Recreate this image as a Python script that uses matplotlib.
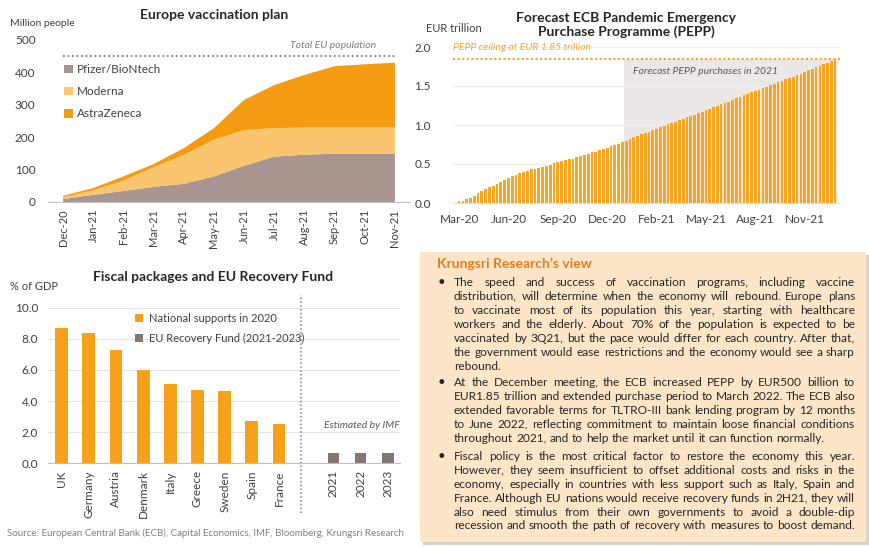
import matplotlib
matplotlib.use("Agg")
import matplotlib.pyplot as plt
from matplotlib.patches import Rectangle
from matplotlib.lines import Line2D
import matplotlib.transforms as mtransforms

W, H = 870, 547
plt.rcParams['font.family'] = ['Lato', 'DejaVu Sans']
TXT = '#404040'

# ---------------- data ----------------
vac_months = ['Dec-20', 'Jan-21', 'Feb-21', 'Mar-21', 'Apr-21', 'May-21',
              'Jun-21', 'Jul-21', 'Aug-21', 'Sep-21', 'Oct-21', 'Nov-21']
pfizer = [9, 22, 34, 47, 56, 79, 112, 140, 146, 149, 149, 149]
moderna = [6, 14, 32, 60, 89, 113, 110, 88, 84, 81, 81, 81]
astrazeneca = [4, 7, 13, 10, 21, 36, 93, 133, 162, 189, 195, 200]
eu_population = 450

pepp_values = [0.02, 0.03, 0.05, 0.07, 0.09, 0.13, 0.15, 0.18, 0.20, 0.22,
               0.25, 0.27, 0.30, 0.32, 0.34, 0.36, 0.38, 0.40, 0.41, 0.43,
               0.44, 0.45, 0.46, 0.48, 0.49, 0.51, 0.52, 0.54, 0.55, 0.56,
               0.57, 0.59, 0.60, 0.62, 0.63, 0.65, 0.66, 0.68, 0.69, 0.71,
               0.73, 0.74, 0.76, 0.78, 0.80, 0.82, 0.84, 0.86, 0.88, 0.90,
               0.91, 0.93, 0.95, 0.97, 0.99, 1.01, 1.02, 1.04, 1.06, 1.08,
               1.10, 1.12, 1.13, 1.15, 1.17, 1.19, 1.21, 1.23, 1.25, 1.27,
               1.28, 1.30, 1.32, 1.34, 1.36, 1.38, 1.40, 1.42, 1.44, 1.45,
               1.47, 1.49, 1.51, 1.53, 1.55, 1.57, 1.59, 1.60, 1.62, 1.64,
               1.66, 1.68, 1.70, 1.72, 1.74, 1.76, 1.78, 1.80, 1.82, 1.85]
pepp_tick_pos = [0, 13, 26, 39, 52, 65, 78, 91]
pepp_tick_labels = ['Mar-20', 'Jun-20', 'Sep-20', 'Dec-20', 'Feb-21',
                    'May-21', 'Aug-21', 'Nov-21']
pepp_forecast_start = 44
pepp_ceiling = 1.85

countries = ['UK', 'Germany', 'Austria', 'Denmark', 'Italy', 'Greece',
             'Sweden', 'Spain', 'France']
national_support = [8.67, 8.35, 7.28, 6.0, 5.07, 4.71, 4.67, 2.74, 2.53]
fund_years = ['2021', '2022', '2023']
recovery_fund = [0.66, 0.66, 0.66]

# ---------------- helpers ----------------
fig = plt.figure(figsize=(W / 100, H / 100), dpi=100)
fig.patch.set_facecolor('white')


def fx(x):
    return x / W


def fy(y):
    return 1 - y / H


def ax_rect(l, t, r, b):
    return [fx(l), fy(b), (r - l) / W, (b - t) / H]


def style_axes(ax):
    for s in ['top', 'right', 'left']:
        ax.spines[s].set_visible(False)
    ax.spines['bottom'].set_color('#BFBFBF')
    ax.tick_params(length=0, colors=TXT, labelsize=8)


# ---------------- chart 1: vaccination ----------------
C_PF, C_MO, C_AZ = '#A8958F', '#FBC46E', '#F59B12'
ax1 = fig.add_axes(ax_rect(48, 40, 410, 202))
x1 = list(range(len(vac_months)))
ax1.stackplot(x1, pfizer, moderna, astrazeneca, colors=[C_PF, C_MO, C_AZ],
              labels=['Pfizer/BioNtech', 'Moderna', 'AstraZeneca'], linewidth=0)
ax1.hlines(eu_population, x1[0], x1[-1], colors='#7F7F7F',
           linestyles=(0, (1, 1.5)), linewidth=1.3)
ax1.set_xlim(-0.5, len(vac_months) - 0.5)
ax1.set_ylim(0, 500)
ax1.set_yticks([0, 100, 200, 300, 400, 500])
ax1.set_xticks(x1)
ax1.set_xticklabels(vac_months, rotation=90)
style_axes(ax1)
ax1.tick_params(axis='y', pad=9, labelsize=8.5)
ax1.tick_params(axis='x', pad=5)
leg = ax1.legend(loc='upper left', bbox_to_anchor=(fx(64), fy(64)),
                 bbox_transform=fig.transFigure, frameon=False, fontsize=8.5,
                 handlelength=0.75, handleheight=0.75, handletextpad=0.35,
                 labelspacing=0.95, borderpad=0, borderaxespad=0)
for t in leg.get_texts():
    t.set_color(TXT)
fig.text(fx(214), fy(15), 'Europe vaccination plan', ha='center', va='center',
         fontsize=10, fontweight='bold', color='#262626')
fig.text(fx(10), fy(24), 'Million people', ha='left', va='center',
         fontsize=7.5, color=TXT)
fig.text(fx(376), fy(45), 'Total EU population', ha='right', va='center',
         fontsize=7.5, style='italic', color='#7F7F7F')

# ---------------- chart 2: PEPP ----------------
C_BAR = '#F5A623'
ax2 = fig.add_axes(ax_rect(453, 47, 840, 203))
xp = list(range(len(pepp_values)))
ax2.fill_between([pepp_forecast_start - 0.5, len(pepp_values) - 0.2], 0,
                 pepp_ceiling, color='#EDE8E8', linewidth=0, zorder=0)
ax2.bar(xp, pepp_values, width=0.72, color=C_BAR, linewidth=0, zorder=2)
ax2.axhline(pepp_ceiling, color=C_BAR, linestyle=(0, (1, 1.2)),
            linewidth=1.5, zorder=3)
ax2.set_xlim(-1.6, len(pepp_values) + 0.3)
ax2.set_ylim(0, 2.0)
ax2.set_yticks([0, 0.5, 1.0, 1.5, 2.0])
ax2.set_yticklabels(['0.0', '0.5', '1.0', '1.5', '2.0'])
ax2.set_xticks(pepp_tick_pos)
ax2.set_xticklabels(pepp_tick_labels)
ax2.grid(axis='y', color='#EDEDED', linewidth=0.8, zorder=0)
ax2.set_axisbelow(True)
style_axes(ax2)
ax2.spines['bottom'].set_color('#E0E0E0')
ax2.tick_params(axis='y', pad=16, labelsize=8.5)
ax2.tick_params(axis='x', pad=8, labelsize=8.5)
fig.text(fx(626), fy(25), 'Forecast ECB Pandemic Emergency\nPurchase Programme (PEPP)',
         ha='center', va='center', fontsize=10, fontweight='bold',
         color='#262626', linespacing=1.15)
fig.text(fx(426), fy(28), 'EUR trillion', ha='left', va='center',
         fontsize=8, color=TXT)
fig.text(fx(453), fy(48), 'PEPP ceiling at EUR 1.85 trillion', ha='left',
         va='center', fontsize=7.5, style='italic', color=C_BAR)
fig.text(fx(633), fy(71), 'Forecast PEPP purchases in 2021', ha='left',
         va='center', fontsize=7.5, style='italic', color='#595959')

# ---------------- chart 3: fiscal ----------------
C_NAT, C_EU = '#F7A11A', '#857573'
ax3 = fig.add_axes(ax_rect(48, 307.7, 400, 463.3))
xc = list(range(len(countries)))
xf = [len(countries) + 1 + i for i in range(len(fund_years))]
b1 = ax3.bar(xc, national_support, width=0.47, color=C_NAT, linewidth=0,
             label='National supports in 2020', zorder=2)
b2 = ax3.bar(xf, recovery_fund, width=0.43, color=C_EU, linewidth=0,
             label='EU Recovery Fund (2021-2023)', zorder=2)
ax3.set_xlim(-0.5, 12.45)
ax3.set_ylim(0, 10)
ax3.set_yticks([0, 2, 4, 6, 8, 10])
ax3.set_yticklabels(['0.0', '2.0', '4.0', '6.0', '8.0', '10.0'])
ax3.set_xticks(xc + xf)
ax3.set_xticklabels(countries + fund_years, rotation=90)
ax3.grid(axis='y', color='#E3E3E3', linewidth=0.8, zorder=0)
ax3.set_axisbelow(True)
style_axes(ax3)
ax3.tick_params(axis='y', pad=7, labelsize=8.5)
ax3.tick_params(axis='x', pad=5, labelsize=8.5)
sep_x = len(countries) - 0.18
trans = mtransforms.blended_transform_factory(ax3.transData, ax3.transAxes)
ax3.add_line(Line2D([sep_x, sep_x], [-0.32, 1.08], transform=trans,
                    color='#7F7F7F', linestyle=(0, (1, 1.5)), linewidth=1.1,
                    clip_on=False))
leg3 = ax3.legend(loc='upper left', bbox_to_anchor=(fx(135), fy(313)),
                  bbox_transform=fig.transFigure, frameon=False, fontsize=8,
                  handlelength=0.75, handleheight=0.75, handletextpad=0.5,
                  labelspacing=0.8, borderpad=0, borderaxespad=0)
for t in leg3.get_texts():
    t.set_color(TXT)
fig.text(fx(213), fy(277), 'Fiscal packages and EU Recovery Fund', ha='center',
         va='center', fontsize=10, fontweight='bold', color='#262626')
fig.text(fx(10), fy(287), '% of GDP', ha='left', va='center', fontsize=8,
         color=TXT)
fig.text(fx(400), fy(426), 'Estimated by IMF', ha='right', va='center',
         fontsize=7.5, style='italic', color='#595959')
fig.text(fx(7), fy(533), 'Source: European Central Bank (ECB), Capital Economics, '
         'IMF, Bloomberg, Krungsri Research', ha='left', va='center',
         fontsize=7, color='#7F7F7F')

# ---------------- text box ----------------
fig.patches.append(Rectangle((fx(423), fy(545)), (866 - 420) / W, (542 - 252) / H,
                             transform=fig.transFigure, facecolor='#D9D2CA',
                             edgecolor='none', zorder=0))
fig.patches.append(Rectangle((fx(420), fy(542)), (866 - 420) / W, (542 - 252) / H,
                             transform=fig.transFigure, facecolor='#FDE6C8',
                             edgecolor='none', zorder=1))
fig.text(fx(437), fy(264), 'Krungsri Research\u2019s view', ha='left',
         va='center', fontsize=10, fontweight='bold', color='#E47B20')

paragraphs = [
    (["The speed and success of vaccination programs, including vaccine",
      "distribution, will determine when the economy will rebound. Europe plans",
      "to vaccinate most of its population this year, starting with healthcare",
      "workers and the elderly. About 70% of the population is expected to be",
      "vaccinated by 3Q21, but the pace would differ for each country. After that,",
      "the government would ease restrictions and the economy would see a sharp",
      "rebound."],
     [283.3, 296.7, 310.7, 324.7, 338.7, 352.3, 366.3]),
    (["At the December meeting, the ECB increased PEPP by EUR500 billion to",
      "EUR1.85 trillion and extended purchase period to March 2022. The ECB also",
      "extended favorable terms for TLTRO-III bank lending program by 12 months",
      "to June 2022, reflecting commitment to maintain loose financial conditions",
      "throughout 2021, and to help the market until it can function normally."],
     [383.3, 397.0, 411.0, 424.7, 438.7]),
    (["Fiscal policy is the most critical factor to restore the economy this year.",
      "However, they seem insufficient to offset additional costs and risks in the",
      "economy, especially in countries with less support such as Italy, Spain and",
      "France. Although EU nations would receive recovery funds in 2H21, they will",
      "also need stimulus from their own governments to avoid a double-dip",
      "recession and smooth the path of recovery with measures to boost demand."],
     [456.7, 470.7, 484.7, 498.3, 512.3, 526.0]),
]
REF_LINE = "throughout 2021, and to help the market until it can function normally."
no_justify = {"rebound.", REF_LINE}

renderer = fig.canvas.get_renderer()
BODY = '#262626'


def measure(s, size):
    t = fig.text(0, 0, s, fontsize=size)
    w = t.get_window_extent(renderer).width
    t.remove()
    return w


X0, X1 = 454, 855
base = 10.0
s0 = (measure("a a", base) - measure("aa", base)) / base
limits = [base * 370 / measure(REF_LINE, base)]
for lines, _ in paragraphs:
    for line in lines:
        if line in no_justify:
            continue
        words = line.split(' ')
        A = sum(measure(w, base) for w in words) / base
        limits.append((X1 - X0) / (A + 0.6 * s0 * (len(words) - 1)))
fs = min(limits)
space_w = s0 * fs

for lines, ys in paragraphs:
    fig.text(fx(441), fy(ys[0] + 3.2), '\u2022', ha='center', va='baseline',
             fontsize=fs + 1, color=BODY)
    for line, y in zip(lines, ys):
        words = line.split(' ')
        widths = [measure(w, fs) for w in words]
        if line in no_justify or len(words) == 1:
            gap = space_w
        else:
            gap = (X1 - X0 - sum(widths)) / (len(words) - 1)
        x = X0
        for w, wd in zip(words, widths):
            fig.text(fx(x), fy(y + 3.2), w, ha='left', va='baseline',
                     fontsize=fs, color=BODY)
            x += wd + gap

fig.savefig('out.png', dpi=100, facecolor='white')
